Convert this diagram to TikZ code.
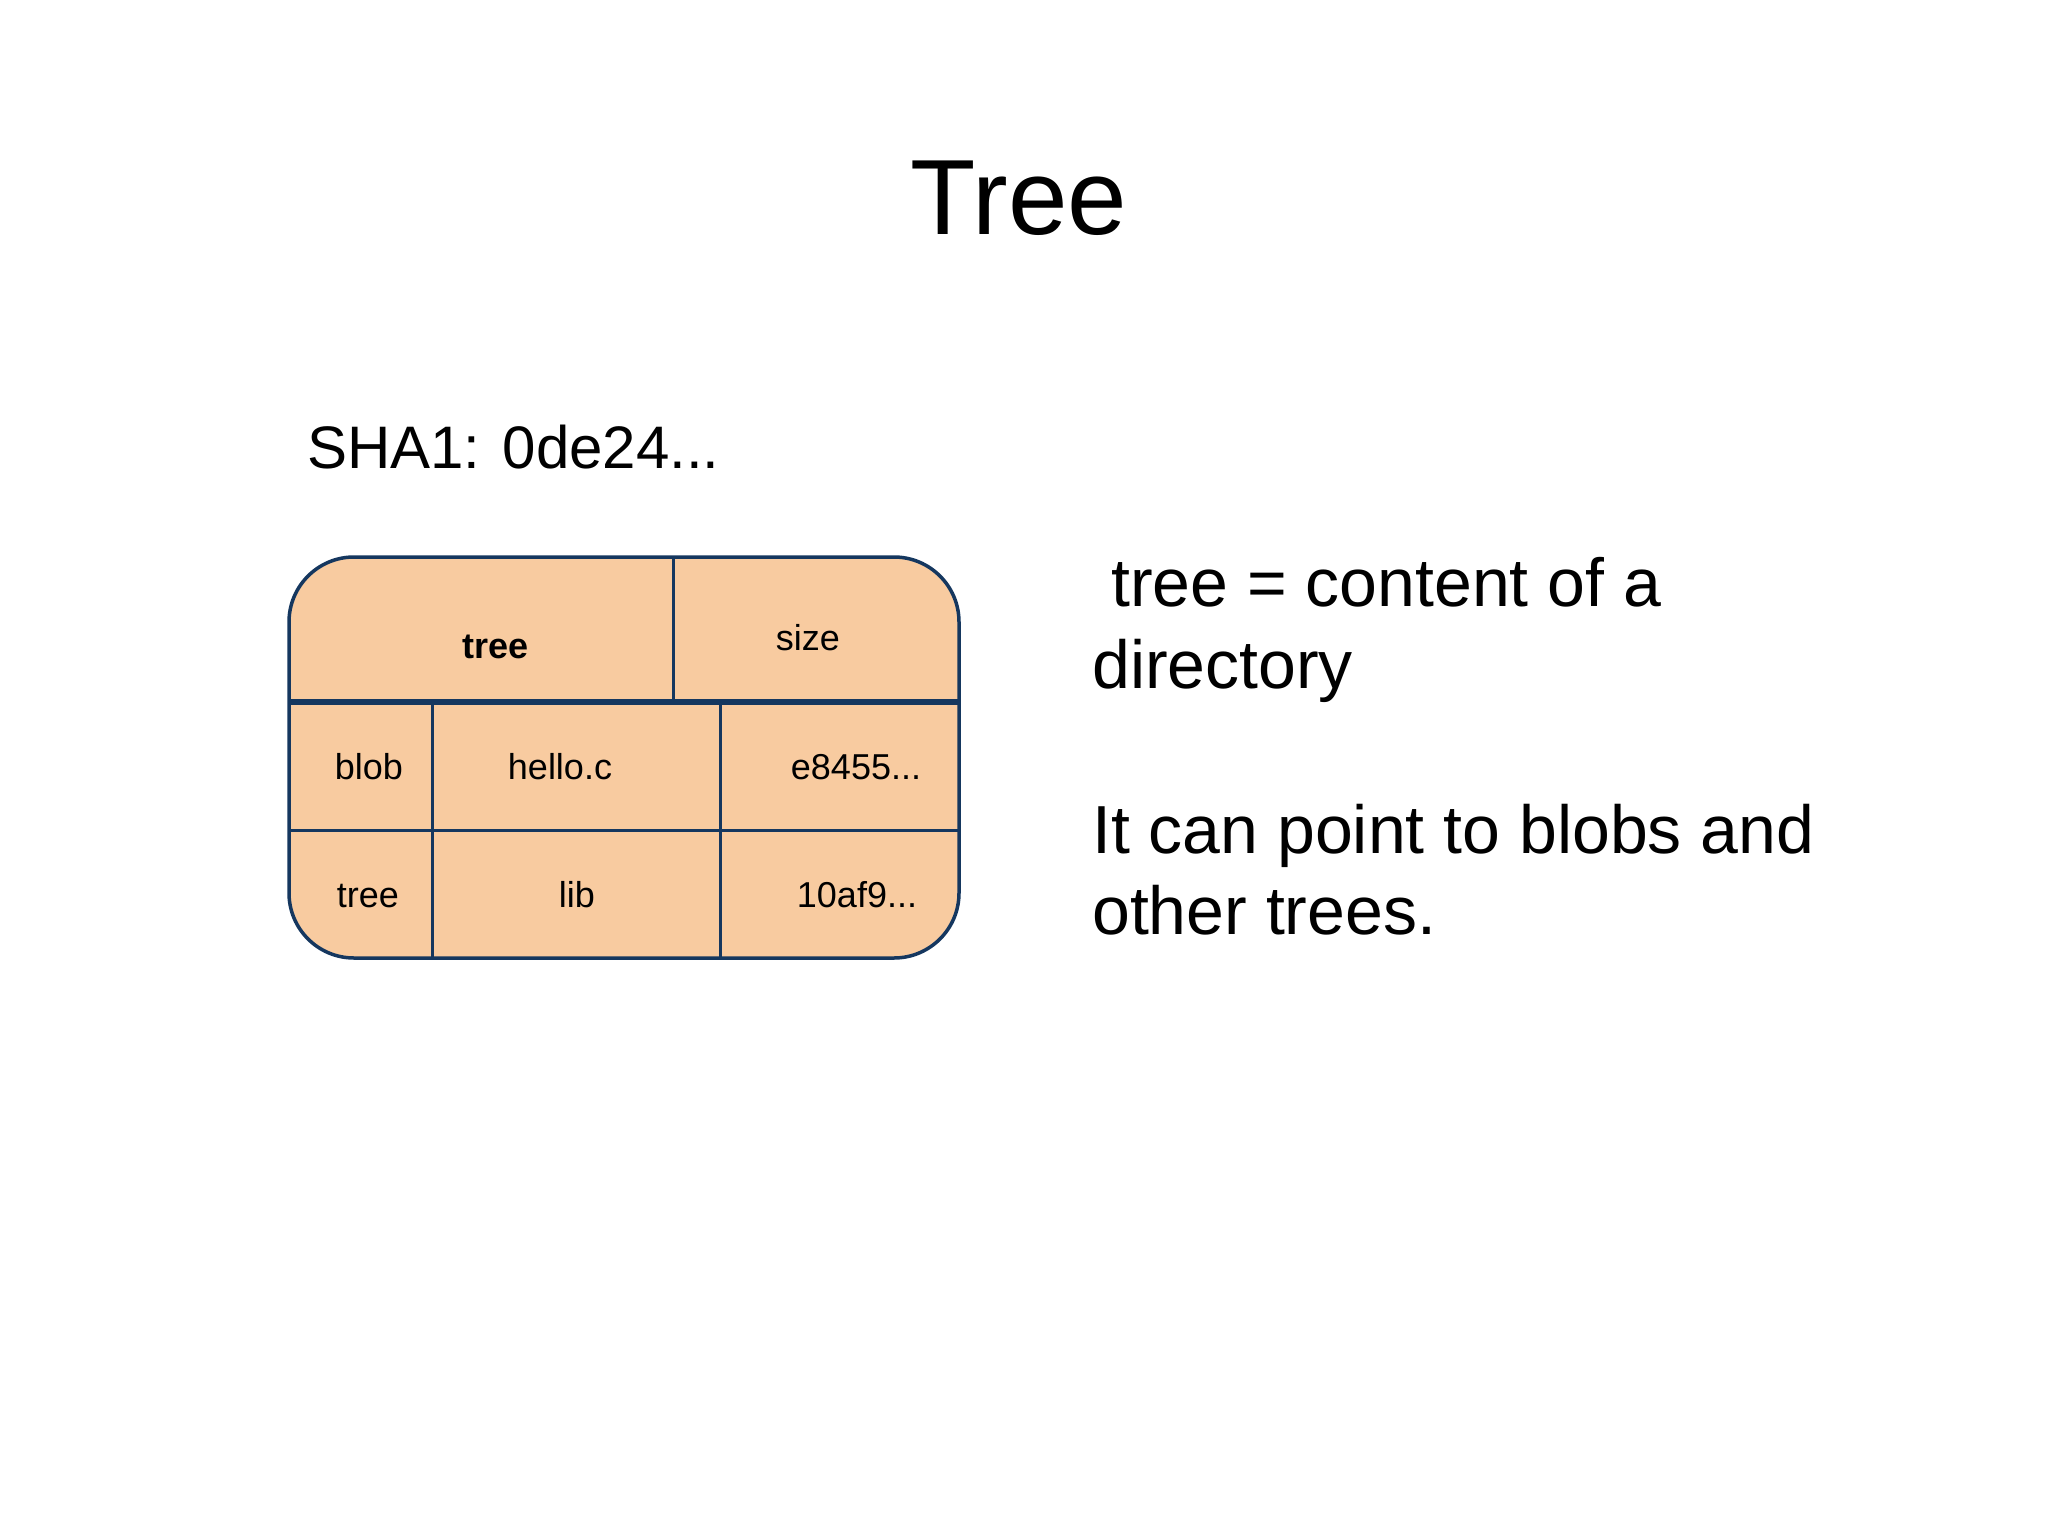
\documentclass[tikz,border=0pt]{standalone}
\usepackage{fontspec}
\setmainfont{Liberation Sans}
\definecolor{cellfill}{HTML}{F8CBA0}
\definecolor{cellline}{HTML}{15375F}
\tikzset{
  txt/.style={inner sep=0pt, anchor=base, text=black},
  celltxt/.style={txt, font=\fontsize{36}{43}\selectfont},
  bodytxt/.style={inner sep=0pt, anchor=base west, text=black, font=\fontsize{68}{81}\selectfont},
  gridline/.style={draw=cellline, line width=3pt},
}
\begin{document}
\begin{tikzpicture}[x=1pt,y=-1pt]
\useasboundingbox[fill=white] (0,0) rectangle (2048,1536);
% title
\node[txt, font=\fontsize{107}{128}\selectfont] (title) at (1019,234) {Tree};
\node[inner sep=0pt, anchor=base west, font=\fontsize{60}{72}\selectfont] (sha) at (307,468) {SHA1: 0de24...};
% table box
\draw[fill=cellfill, draw=cellline, line width=3.5pt, rounded corners=65pt] (289,557) rectangle (959,958);
\coordinate (hl) at (289,702); \coordinate (hr) at (959,702);
\coordinate (rl) at (289,830); \coordinate (rr) at (959,830);
\coordinate (v0t) at (673,557); \coordinate (v0b) at (673,702);
\coordinate (v1t) at (432,702); \coordinate (v1b) at (432,958);
\coordinate (v2t) at (720,702); \coordinate (v2b) at (720,958);
\draw[gridline, line width=6pt] (hl) -- (hr);
\draw[gridline] (rl) -- (rr);
\draw[gridline] (v0t) -- (v0b);
\draw[gridline] (v1t) -- (v1b);
\draw[gridline] (v2t) -- (v2b);
% cell texts
\node[celltxt, font=\fontsize{36}{43}\selectfont\bfseries] (htree) at (496,658) {tree};
\node[celltxt] (hsize) at (808,650) {size};
\node[celltxt] (c11) at (369,779) {blob};
\node[celltxt] (c12) at (560,779) {hello.c};
\node[celltxt] (c13) at (856,779) {e8455...};
\node[celltxt] (c21) at (368,907) {tree};
\node[celltxt] (c22) at (577,907) {lib};
\node[celltxt] (c23) at (857,907) {10af9...};
% right text
\node[bodytxt] (d1) at (1111,606) {tree = content of a};
\node[bodytxt] (d2) at (1092,688) {directory};
\node[bodytxt] (d3) at (1092,853) {It can point to blobs and};
\node[bodytxt] (d4) at (1092,934) {other trees.};
\end{tikzpicture}
\end{document}
